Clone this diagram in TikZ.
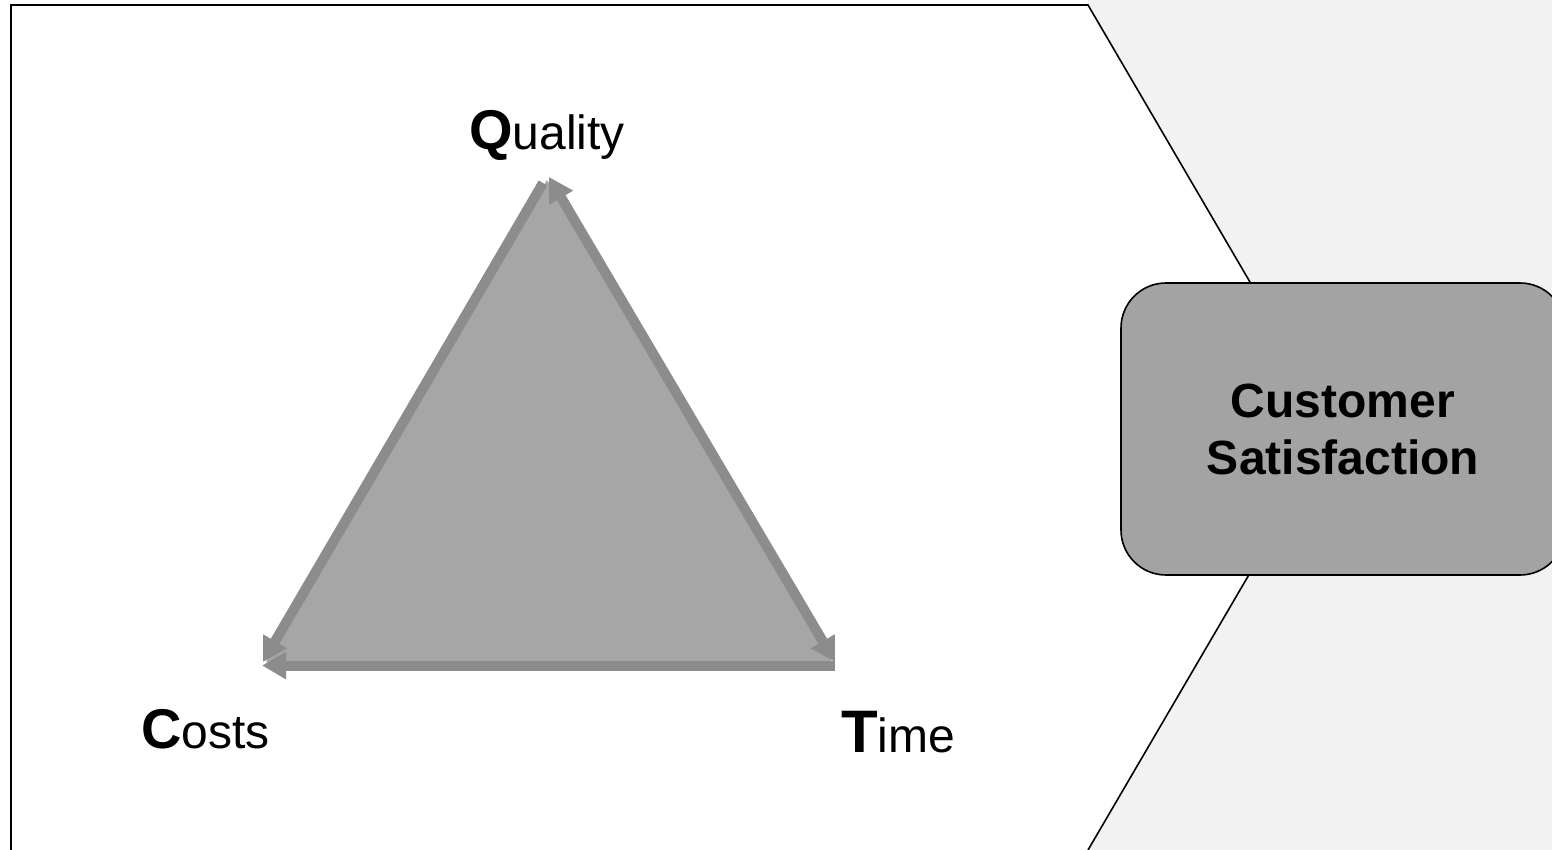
\documentclass[tikz,border=0pt]{standalone}
\usepackage{fontspec}
\setmainfont{Liberation Sans}
\usetikzlibrary{arrows.meta}
\definecolor{bggrey}{HTML}{F2F2F2}
\definecolor{trifill}{HTML}{A6A6A6}
\definecolor{triline}{HTML}{8C8C8C}
\definecolor{boxfill}{HTML}{A3A3A3}
\tikzset{
  outline/.style={draw=black,line width=1.6pt,line join=miter},
  edgearrow/.style={draw=triline,line width=10pt,-{Triangle[length=24pt,width=26pt]}},
  dblarrow/.style={draw=triline,line width=10pt,{Triangle[length=24pt,width=26pt]}-{Triangle[length=24pt,width=26pt]}},
  label/.style={inner sep=0pt,anchor=base west},
  satbox/.style={draw=black,line width=1.6pt,fill=boxfill,rounded corners=45pt,minimum width=444pt,minimum height=292pt,align=center,inner sep=0pt,font=\fontsize{48}{57}\selectfont\bfseries}
}
\begin{document}
\begin{tikzpicture}[x=1pt,y=-1pt]
\useasboundingbox (0,0) rectangle (1552,850);
\fill[white] (0,0) rectangle (1552,850);
% chevron geometry
\coordinate (tl) at (11,5);
\coordinate (tr) at (1088,5);
\coordinate (tip) at (1335,427.5);
\coordinate (br) at (1088,850);
\coordinate (bl) at (11,850);
\fill[bggrey] (1088,0) -- (1552,0) -- (1552,850) -- (br) -- (tip) -- (tr) -- cycle;
\draw[outline] (bl) -- (tl) -- (tr) -- (tip) -- (br);
% triangle
\coordinate (A) at (549,177);
\coordinate (B) at (263,662);
\coordinate (C) at (835,662);
\fill[trifill] (547,180) -- (266,662) -- (834,665) -- cycle;
\coordinate (Atop) at (543,183);
\coordinate (Cb) at (835,665.5);
\coordinate (Bb) at (262,665.5);
\draw[edgearrow] (Atop) -- (B);
\draw[dblarrow] (C) -- (A);
\draw[edgearrow] (Cb) -- (Bb);
% labels
\node[label] (q) at (469,150) {{\fontsize{56}{60}\selectfont\bfseries Q}{\fontsize{48}{55}\selectfont uality}};
\node[label] (c) at (141,748) {{\fontsize{56}{60}\selectfont\bfseries C}{\fontsize{48}{55}\selectfont osts}};
\node[label] (t) at (841,752) {{\fontsize{60}{60}\selectfont\bfseries T}{\fontsize{48}{55}\selectfont ime}};
% box
\node[satbox] (cs) at (1343,429) {Customer\\Satisfaction};
\end{tikzpicture}
\end{document}
